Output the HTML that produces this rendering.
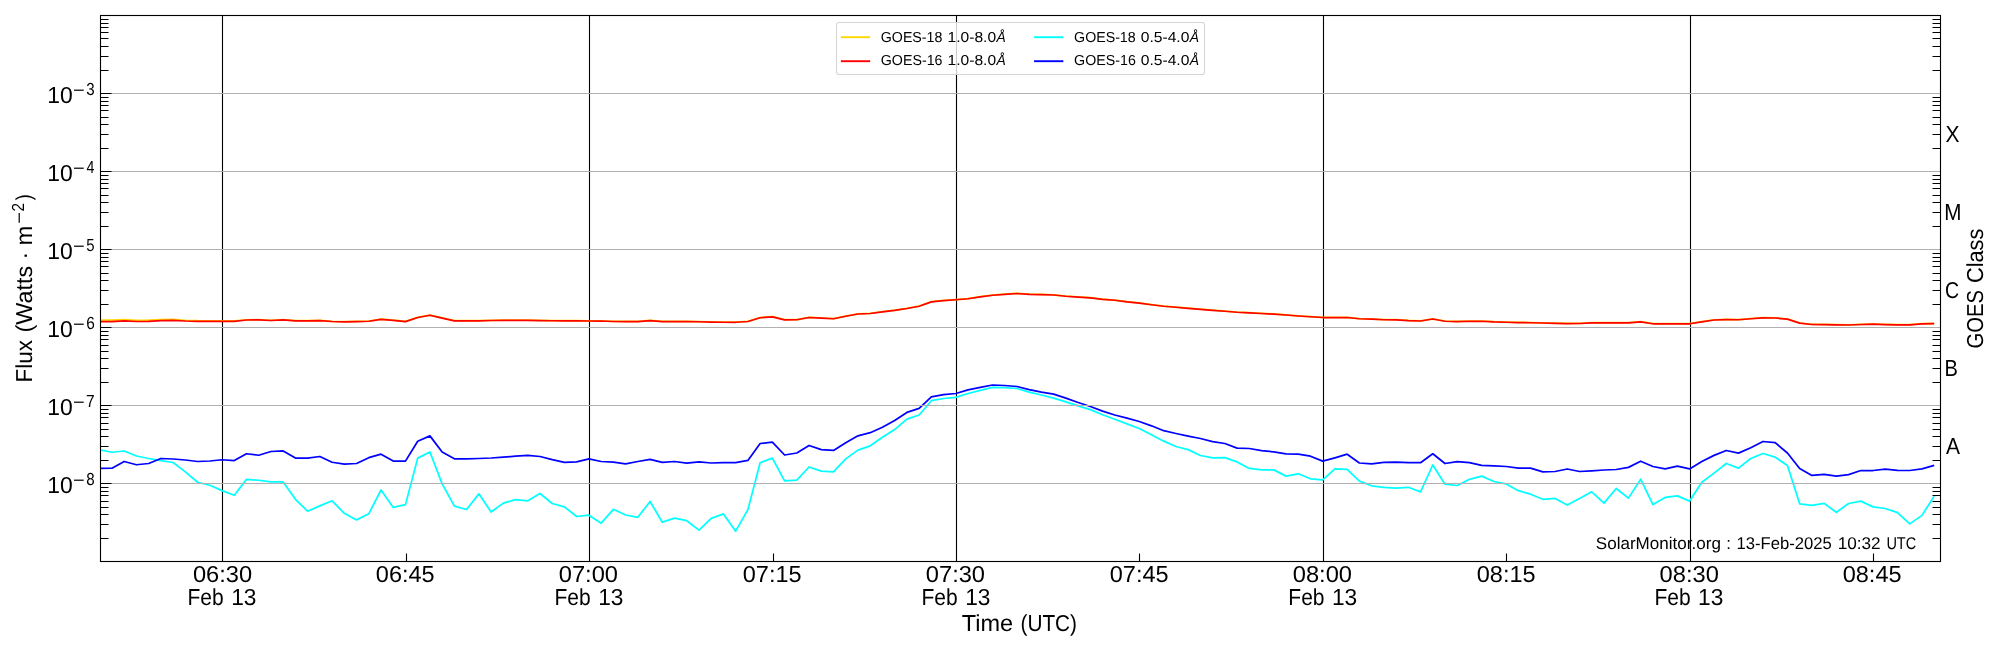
<!DOCTYPE html>
<html><head><meta charset="utf-8"><title>GOES X-ray flux</title><style>html,body{margin:0;padding:0;background:#fff;width:2000px;height:650px;overflow:hidden}</style></head><body>
<svg width="2000" height="650" viewBox="0 0 2000 650" text-rendering="geometricPrecision" style="display:block;will-change:transform;font-family:'Liberation Sans',sans-serif">
<rect x="0" y="0" width="2000" height="650" fill="#fff"/>
<line x1="222.5" y1="15.5" x2="222.5" y2="561.5" stroke="#000" stroke-width="1.1"/>
<line x1="589.5" y1="15.5" x2="589.5" y2="561.5" stroke="#000" stroke-width="1.1"/>
<line x1="956.5" y1="15.5" x2="956.5" y2="561.5" stroke="#000" stroke-width="1.1"/>
<line x1="1323.5" y1="15.5" x2="1323.5" y2="561.5" stroke="#000" stroke-width="1.1"/>
<line x1="1690.5" y1="15.5" x2="1690.5" y2="561.5" stroke="#000" stroke-width="1.1"/>
<g clip-path="url(#axclip)">
<polyline points="99.73,320.20 111.96,320.21 124.19,319.52 136.42,320.32 148.65,320.23 160.88,319.64 173.11,319.45 185.34,320.26 197.57,320.67 209.80,320.78 222.03,320.88 234.26,320.99 246.49,319.80 258.72,319.70 270.95,320.30 283.18,319.70 295.41,320.60 307.63,320.70 319.86,320.40 332.09,321.30 344.32,321.70 356.55,321.40 368.78,321.05 381.01,319.20 393.24,320.20 405.47,321.40 417.70,317.30 429.93,315.05 442.16,317.90 454.39,320.70 466.62,320.70 478.85,320.70 491.08,320.30 503.31,320.20 515.54,320.20 527.77,320.20 540.00,320.40 552.23,320.55 564.46,320.70 576.69,320.70 588.92,320.80 601.15,320.80 613.38,321.30 625.61,321.40 637.84,321.40 650.07,320.40 662.30,321.40 674.53,321.40 686.76,321.40 698.99,321.55 711.22,321.90 723.44,322.05 735.67,322.05 747.90,321.30 760.13,317.55 772.36,316.70 784.59,319.70 796.82,319.55 809.05,317.30 821.28,317.90 833.51,318.55 845.74,316.05 857.97,313.80 870.20,313.30 882.43,311.70 894.66,310.20 906.89,308.30 919.12,306.05 931.35,301.70 943.58,300.40 955.81,299.55 968.04,298.55 980.27,296.70 992.50,295.05 1004.73,294.20 1016.96,293.30 1029.19,294.20 1041.42,294.40 1053.65,294.80 1065.88,296.05 1078.11,296.90 1090.34,297.70 1102.57,299.20 1114.80,300.05 1127.02,301.70 1139.25,302.90 1151.48,304.55 1163.71,306.05 1175.94,307.05 1188.17,308.20 1200.40,309.20 1212.63,310.20 1224.86,311.05 1237.09,312.05 1249.32,312.70 1261.55,313.30 1273.78,313.90 1286.01,314.80 1298.24,315.80 1310.47,316.55 1322.70,317.30 1334.93,317.30 1347.16,317.30 1359.39,318.55 1371.62,318.90 1383.85,319.55 1396.08,319.70 1408.31,320.40 1420.54,320.80 1432.77,318.80 1445.00,321.05 1457.23,321.40 1469.46,321.05 1481.69,321.05 1493.92,321.70 1506.15,322.05 1518.38,322.40 1530.60,322.55 1542.83,322.80 1555.06,323.20 1567.29,323.40 1579.52,323.30 1591.75,322.70 1603.98,322.70 1616.21,322.70 1628.44,322.70 1640.67,321.70 1652.90,323.55 1665.13,323.55 1677.36,323.55 1689.59,323.55 1701.82,321.70 1714.05,319.80 1726.28,319.40 1738.51,319.55 1750.74,318.55 1762.97,317.60 1775.20,317.80 1787.43,319.00 1799.66,323.00 1811.89,324.30 1824.12,324.40 1836.35,324.60 1848.58,324.80 1860.81,324.30 1873.04,324.00 1885.27,324.40 1897.50,324.60 1909.73,324.60 1921.96,323.60 1934.19,323.40" fill="none" stroke="#ffd700" stroke-width="1.75" stroke-linejoin="round" stroke-linecap="butt"/>
<polyline points="99.73,321.70 111.96,321.60 124.19,320.80 136.42,321.50 148.65,321.30 160.88,320.60 173.11,320.30 185.34,321.00 197.57,321.30 209.80,321.30 222.03,321.30 234.26,321.30 246.49,320.00 258.72,319.90 270.95,320.50 283.18,319.90 295.41,320.80 307.63,320.90 319.86,320.60 332.09,321.50 344.32,321.90 356.55,321.60 368.78,321.25 381.01,319.40 393.24,320.40 405.47,321.60 417.70,317.50 429.93,315.25 442.16,318.10 454.39,320.90 466.62,320.90 478.85,320.90 491.08,320.50 503.31,320.40 515.54,320.40 527.77,320.40 540.00,320.60 552.23,320.75 564.46,320.90 576.69,320.90 588.92,321.00 601.15,321.00 613.38,321.50 625.61,321.60 637.84,321.60 650.07,320.60 662.30,321.60 674.53,321.60 686.76,321.60 698.99,321.75 711.22,322.10 723.44,322.25 735.67,322.25 747.90,321.50 760.13,317.75 772.36,316.90 784.59,319.90 796.82,319.75 809.05,317.50 821.28,318.10 833.51,318.75 845.74,316.25 857.97,314.00 870.20,313.50 882.43,311.90 894.66,310.40 906.89,308.50 919.12,306.25 931.35,301.90 943.58,300.60 955.81,299.75 968.04,298.75 980.27,296.90 992.50,295.25 1004.73,294.40 1016.96,293.50 1029.19,294.40 1041.42,294.60 1053.65,295.00 1065.88,296.25 1078.11,297.10 1090.34,297.90 1102.57,299.40 1114.80,300.25 1127.02,301.90 1139.25,303.10 1151.48,304.75 1163.71,306.25 1175.94,307.25 1188.17,308.40 1200.40,309.40 1212.63,310.40 1224.86,311.25 1237.09,312.25 1249.32,312.90 1261.55,313.50 1273.78,314.10 1286.01,315.00 1298.24,316.00 1310.47,316.75 1322.70,317.50 1334.93,317.50 1347.16,317.50 1359.39,318.75 1371.62,319.10 1383.85,319.75 1396.08,319.90 1408.31,320.60 1420.54,321.00 1432.77,319.00 1445.00,321.25 1457.23,321.60 1469.46,321.25 1481.69,321.25 1493.92,321.90 1506.15,322.25 1518.38,322.60 1530.60,322.75 1542.83,323.00 1555.06,323.40 1567.29,323.60 1579.52,323.50 1591.75,322.90 1603.98,322.90 1616.21,322.90 1628.44,322.90 1640.67,321.90 1652.90,323.75 1665.13,323.75 1677.36,323.75 1689.59,323.75 1701.82,321.90 1714.05,320.00 1726.28,319.60 1738.51,319.75 1750.74,318.75 1762.97,317.80 1775.20,318.00 1787.43,319.20 1799.66,323.20 1811.89,324.50 1824.12,324.60 1836.35,324.80 1848.58,325.00 1860.81,324.50 1873.04,324.20 1885.27,324.60 1897.50,324.80 1909.73,324.80 1921.96,323.80 1934.19,323.60" fill="none" stroke="#ff0000" stroke-width="1.75" stroke-linejoin="round" stroke-linecap="butt"/>
<polyline points="99.73,449.75 111.96,452.25 124.19,451.00 136.42,456.00 148.65,458.50 160.88,460.60 173.11,462.50 185.34,471.90 197.57,482.25 209.80,485.25 222.03,490.60 234.26,495.25 246.49,479.40 258.72,480.25 270.95,481.90 283.18,481.90 295.41,499.30 307.63,511.20 319.86,505.90 332.09,500.80 344.32,513.30 356.55,519.90 368.78,513.80 381.01,490.00 393.24,507.40 405.47,504.60 417.70,458.15 429.93,452.00 442.16,483.85 454.39,506.15 466.62,509.50 478.85,493.85 491.08,512.00 503.31,503.10 515.54,499.70 527.77,500.80 540.00,493.50 552.23,503.50 564.46,506.90 576.69,516.50 588.92,515.20 601.15,523.15 613.38,509.30 625.61,515.00 637.84,517.30 650.07,501.50 662.30,522.20 674.53,518.10 686.76,520.70 698.99,530.10 711.22,518.40 723.44,513.90 735.67,531.15 747.90,509.60 760.13,462.70 772.36,458.10 784.59,480.85 796.82,480.10 809.05,467.00 821.28,471.15 833.51,471.90 845.74,458.85 857.97,450.10 870.20,445.80 882.43,437.30 894.66,429.60 906.89,419.15 919.12,415.00 931.35,400.70 943.58,398.50 955.81,397.30 968.04,393.50 980.27,390.40 992.50,387.30 1004.73,387.60 1016.96,388.50 1029.19,392.20 1041.42,395.00 1053.65,398.10 1065.88,401.90 1078.11,405.80 1090.34,409.60 1102.57,414.70 1114.80,419.30 1127.02,423.90 1139.25,428.50 1151.48,434.70 1163.71,441.15 1175.94,446.50 1188.17,449.60 1200.40,455.50 1212.63,457.80 1224.86,457.60 1237.09,461.90 1249.32,468.40 1261.55,469.90 1273.78,469.90 1286.01,476.10 1298.24,473.80 1310.47,478.80 1322.70,479.90 1334.93,468.85 1347.16,469.30 1359.39,481.15 1371.62,485.80 1383.85,487.30 1396.08,488.10 1408.31,487.30 1420.54,491.90 1432.77,465.00 1445.00,484.20 1457.23,485.50 1469.46,479.30 1481.69,476.10 1493.92,481.50 1506.15,483.90 1518.38,490.70 1530.60,494.20 1542.83,499.30 1555.06,498.40 1567.29,505.00 1579.52,498.50 1591.75,491.85 1603.98,503.10 1616.21,488.50 1628.44,498.15 1640.67,479.20 1652.90,504.60 1665.13,497.40 1677.36,495.85 1689.59,501.10 1701.82,482.30 1714.05,473.10 1726.28,463.50 1738.51,468.15 1750.74,458.50 1762.97,453.50 1775.20,457.20 1787.43,465.40 1799.66,503.85 1811.89,505.40 1824.12,503.40 1836.35,512.30 1848.58,503.50 1860.81,501.10 1873.04,506.90 1885.27,508.50 1897.50,512.60 1909.73,523.85 1921.96,515.40 1934.19,496.15" fill="none" stroke="#00ffff" stroke-width="1.75" stroke-linejoin="round" stroke-linecap="butt"/>
<polyline points="99.73,468.50 111.96,468.25 124.19,461.50 136.42,464.75 148.65,463.50 160.88,458.50 173.11,459.00 185.34,460.00 197.57,461.50 209.80,461.00 222.03,459.75 234.26,460.60 246.49,453.75 258.72,455.25 270.95,451.50 283.18,450.90 295.41,458.10 307.63,458.10 319.86,456.50 332.09,462.25 344.32,464.10 356.55,463.50 368.78,457.70 381.01,454.15 393.24,461.10 405.47,461.10 417.70,441.20 429.93,435.85 442.16,452.00 454.39,458.80 466.62,458.90 478.85,458.50 491.08,458.00 503.31,457.20 515.54,456.15 527.77,455.40 540.00,456.50 552.23,459.70 564.46,462.30 576.69,461.85 588.92,458.80 601.15,461.50 613.38,462.20 625.61,463.80 637.84,461.50 650.07,459.30 662.30,462.40 674.53,461.50 686.76,463.15 698.99,461.90 711.22,463.00 723.44,462.70 735.67,462.70 747.90,460.40 760.13,443.50 772.36,442.20 784.59,455.00 796.82,453.00 809.05,445.50 821.28,449.60 833.51,450.40 845.74,442.70 857.97,435.80 870.20,432.70 882.43,427.30 894.66,420.40 906.89,412.40 919.12,408.40 931.35,396.85 943.58,394.70 955.81,393.50 968.04,389.90 980.27,387.30 992.50,385.00 1004.73,385.50 1016.96,386.50 1029.19,389.60 1041.42,392.20 1053.65,394.20 1065.88,398.10 1078.11,402.50 1090.34,406.50 1102.57,411.15 1114.80,415.00 1127.02,418.10 1139.25,421.50 1151.48,425.80 1163.71,430.70 1175.94,433.50 1188.17,436.10 1200.40,438.50 1212.63,441.60 1224.86,443.50 1237.09,448.10 1249.32,448.50 1261.55,450.70 1273.78,451.90 1286.01,453.80 1298.24,454.20 1310.47,456.20 1322.70,461.15 1334.93,457.80 1347.16,454.20 1359.39,463.00 1371.62,463.90 1383.85,462.40 1396.08,462.20 1408.31,462.70 1420.54,462.70 1432.77,453.80 1445.00,463.50 1457.23,461.60 1469.46,462.70 1481.69,465.30 1493.92,465.80 1506.15,466.50 1518.38,468.10 1530.60,468.10 1542.83,471.90 1555.06,471.50 1567.29,469.00 1579.52,471.50 1591.75,470.80 1603.98,470.00 1616.21,469.50 1628.44,467.40 1640.67,461.20 1652.90,466.50 1665.13,468.90 1677.36,466.15 1689.59,468.90 1701.82,461.50 1714.05,455.40 1726.28,450.50 1738.51,453.10 1750.74,447.70 1762.97,441.50 1775.20,442.70 1787.43,453.00 1799.66,468.50 1811.89,475.40 1824.12,474.30 1836.35,476.15 1848.58,474.60 1860.81,470.50 1873.04,470.50 1885.27,469.20 1897.50,470.30 1909.73,470.50 1921.96,468.90 1934.19,465.40" fill="none" stroke="#0000ff" stroke-width="1.75" stroke-linejoin="round" stroke-linecap="butt"/>
</g>
<defs><clipPath id="axclip"><rect x="100.5" y="15.5" width="1840.0" height="546.0"/></clipPath></defs>
<line x1="100.5" y1="93.5" x2="1940.5" y2="93.5" stroke="#b0b0b0" stroke-width="1.1"/>
<line x1="100.5" y1="171.5" x2="1940.5" y2="171.5" stroke="#b0b0b0" stroke-width="1.1"/>
<line x1="100.5" y1="249.5" x2="1940.5" y2="249.5" stroke="#b0b0b0" stroke-width="1.1"/>
<line x1="100.5" y1="327.5" x2="1940.5" y2="327.5" stroke="#b0b0b0" stroke-width="1.1"/>
<line x1="100.5" y1="405.5" x2="1940.5" y2="405.5" stroke="#b0b0b0" stroke-width="1.1"/>
<line x1="100.5" y1="483.5" x2="1940.5" y2="483.5" stroke="#b0b0b0" stroke-width="1.1"/>
<path d="M100.5,93.5h11 M100.5,171.5h11 M100.5,249.5h11 M100.5,327.5h11 M100.5,405.5h11 M100.5,483.5h11 M100.5,70.5h8 M1940.5,70.5h-8 M100.5,56.5h8 M1940.5,56.5h-8 M100.5,46.5h8 M1940.5,46.5h-8 M100.5,38.5h8 M1940.5,38.5h-8 M100.5,32.5h8 M1940.5,32.5h-8 M100.5,27.5h8 M1940.5,27.5h-8 M100.5,23.5h8 M1940.5,23.5h-8 M100.5,19.5h8 M1940.5,19.5h-8 M100.5,148.5h8 M1940.5,148.5h-8 M100.5,134.5h8 M1940.5,134.5h-8 M100.5,124.5h8 M1940.5,124.5h-8 M100.5,117.5h8 M1940.5,117.5h-8 M100.5,110.5h8 M1940.5,110.5h-8 M100.5,105.5h8 M1940.5,105.5h-8 M100.5,101.5h8 M1940.5,101.5h-8 M100.5,97.5h8 M1940.5,97.5h-8 M100.5,226.5h8 M1940.5,226.5h-8 M100.5,212.5h8 M1940.5,212.5h-8 M100.5,202.5h8 M1940.5,202.5h-8 M100.5,195.5h8 M1940.5,195.5h-8 M100.5,188.5h8 M1940.5,188.5h-8 M100.5,183.5h8 M1940.5,183.5h-8 M100.5,179.5h8 M1940.5,179.5h-8 M100.5,175.5h8 M1940.5,175.5h-8 M100.5,304.5h8 M1940.5,304.5h-8 M100.5,290.5h8 M1940.5,290.5h-8 M100.5,280.5h8 M1940.5,280.5h-8 M100.5,273.5h8 M1940.5,273.5h-8 M100.5,266.5h8 M1940.5,266.5h-8 M100.5,261.5h8 M1940.5,261.5h-8 M100.5,257.5h8 M1940.5,257.5h-8 M100.5,253.5h8 M1940.5,253.5h-8 M100.5,382.5h8 M1940.5,382.5h-8 M100.5,368.5h8 M1940.5,368.5h-8 M100.5,358.5h8 M1940.5,358.5h-8 M100.5,351.5h8 M1940.5,351.5h-8 M100.5,345.5h8 M1940.5,345.5h-8 M100.5,339.5h8 M1940.5,339.5h-8 M100.5,335.5h8 M1940.5,335.5h-8 M100.5,331.5h8 M1940.5,331.5h-8 M100.5,460.5h8 M1940.5,460.5h-8 M100.5,446.5h8 M1940.5,446.5h-8 M100.5,436.5h8 M1940.5,436.5h-8 M100.5,429.5h8 M1940.5,429.5h-8 M100.5,423.5h8 M1940.5,423.5h-8 M100.5,417.5h8 M1940.5,417.5h-8 M100.5,413.5h8 M1940.5,413.5h-8 M100.5,409.5h8 M1940.5,409.5h-8 M100.5,538.5h8 M1940.5,538.5h-8 M100.5,524.5h8 M1940.5,524.5h-8 M100.5,514.5h8 M1940.5,514.5h-8 M100.5,507.5h8 M1940.5,507.5h-8 M100.5,501.5h8 M1940.5,501.5h-8 M100.5,495.5h8 M1940.5,495.5h-8 M100.5,491.5h8 M1940.5,491.5h-8 M100.5,487.5h8 M1940.5,487.5h-8 M406.5,561.5v-8 M773.5,561.5v-8 M1139.5,561.5v-8 M1506.5,561.5v-8 M1873.5,561.5v-8" stroke="#000" stroke-width="1.1" fill="none"/>
<rect x="100.5" y="15.5" width="1840.0" height="546.0" fill="none" stroke="#000" stroke-width="1.11"/>
<text font-size="23.100" fill="#000" transform="translate(47.28,103.00) scale(0.9924,1)">10</text>
<text font-size="17.400" fill="#000" transform="translate(73.10,96.00) scale(1.1494,1)">−</text>
<text font-size="17.400" fill="#000" transform="translate(86.30,95.00) scale(0.8682,1)">3</text>
<text font-size="23.100" fill="#000" transform="translate(47.28,181.00) scale(0.9924,1)">10</text>
<text font-size="17.400" fill="#000" transform="translate(73.10,174.00) scale(1.1494,1)">−</text>
<text font-size="17.400" fill="#000" transform="translate(86.55,173.00) scale(0.8161,1)">4</text>
<text font-size="23.100" fill="#000" transform="translate(47.28,259.00) scale(0.9924,1)">10</text>
<text font-size="17.400" fill="#000" transform="translate(73.10,252.00) scale(1.1494,1)">−</text>
<text font-size="17.400" fill="#000" transform="translate(86.30,251.00) scale(0.8590,1)">5</text>
<text font-size="23.100" fill="#000" transform="translate(47.28,337.00) scale(0.9924,1)">10</text>
<text font-size="17.400" fill="#000" transform="translate(73.10,330.00) scale(1.1494,1)">−</text>
<text font-size="17.400" fill="#000" transform="translate(86.13,329.00) scale(0.8871,1)">6</text>
<text font-size="23.100" fill="#000" transform="translate(47.28,415.00) scale(0.9924,1)">10</text>
<text font-size="17.400" fill="#000" transform="translate(73.10,408.00) scale(1.1494,1)">−</text>
<text font-size="17.400" fill="#000" transform="translate(86.12,407.00) scale(0.8968,1)">7</text>
<text font-size="23.100" fill="#000" transform="translate(47.28,493.00) scale(0.9924,1)">10</text>
<text font-size="17.400" fill="#000" transform="translate(73.10,486.00) scale(1.1494,1)">−</text>
<text font-size="17.400" fill="#000" transform="translate(86.22,485.00) scale(0.8682,1)">8</text>
<text font-size="23.100" fill="#000" transform="translate(192.91,582.00) scale(1.0247,1)">06:30</text>
<text font-size="23.100" fill="#000" transform="translate(187.50,605.00) scale(0.9102,1)">Feb</text>
<text font-size="23.100" fill="#000" transform="translate(231.19,605.00) scale(0.9837,1)">13</text>
<text font-size="23.100" fill="#000" transform="translate(375.83,582.00) scale(1.0172,1)">06:45</text>
<text font-size="23.100" fill="#000" transform="translate(558.76,582.00) scale(1.0247,1)">07:00</text>
<text font-size="23.100" fill="#000" transform="translate(554.45,605.00) scale(0.9102,1)">Feb</text>
<text font-size="23.100" fill="#000" transform="translate(598.14,605.00) scale(0.9837,1)">13</text>
<text font-size="23.100" fill="#000" transform="translate(742.78,582.00) scale(1.0172,1)">07:15</text>
<text font-size="23.100" fill="#000" transform="translate(925.81,582.00) scale(1.0247,1)">07:30</text>
<text font-size="23.100" fill="#000" transform="translate(921.45,605.00) scale(0.9102,1)">Feb</text>
<text font-size="23.100" fill="#000" transform="translate(965.14,605.00) scale(0.9837,1)">13</text>
<text font-size="23.100" fill="#000" transform="translate(1109.78,582.00) scale(1.0172,1)">07:45</text>
<text font-size="23.100" fill="#000" transform="translate(1292.76,582.00) scale(1.0247,1)">08:00</text>
<text font-size="23.100" fill="#000" transform="translate(1288.30,605.00) scale(0.9102,1)">Feb</text>
<text font-size="23.100" fill="#000" transform="translate(1331.99,605.00) scale(0.9837,1)">13</text>
<text font-size="23.100" fill="#000" transform="translate(1476.78,582.00) scale(1.0172,1)">08:15</text>
<text font-size="23.100" fill="#000" transform="translate(1659.61,582.00) scale(1.0247,1)">08:30</text>
<text font-size="23.100" fill="#000" transform="translate(1654.40,605.00) scale(0.9102,1)">Feb</text>
<text font-size="23.100" fill="#000" transform="translate(1698.09,605.00) scale(0.9837,1)">13</text>
<text font-size="23.100" fill="#000" transform="translate(1842.73,582.00) scale(1.0172,1)">08:45</text>
<text font-size="23.100" fill="#000" transform="translate(961.77,631.00) scale(1.0187,1)">Time</text>
<text font-size="23.100" fill="#000" transform="translate(1020.46,631.00) scale(0.9000,1)">(UTC)</text>
<text font-size="23.100" fill="#000" transform="translate(32.00,382.60) rotate(-90) scale(0.9744,1)">Flux</text>
<text font-size="23.100" fill="#000" transform="translate(32.00,332.60) rotate(-90) scale(1.0130,1)">(Watts</text>
<text font-size="23.100" fill="#000" transform="translate(32.00,259.57) rotate(-90) scale(0.9967,1)">·</text>
<text font-size="23.100" fill="#000" transform="translate(32.00,245.43) rotate(-90) scale(1.0306,1)">m</text>
<text font-size="17.400" fill="#000" transform="translate(25.40,223.70) rotate(-90) scale(1.1494,1)">−</text>
<text font-size="17.400" fill="#000" transform="translate(23.80,211.57) rotate(-90) scale(0.8842,1)">2</text>
<text font-size="21.500" fill="#000" transform="translate(30.90,200.27) rotate(-90) scale(0.8384,1)">)</text>
<text font-size="23.100" fill="#000" transform="translate(1983.00,348.51) rotate(-90) scale(0.8775,1)">GOES</text>
<text font-size="23.100" fill="#000" transform="translate(1983.00,283.05) rotate(-90) scale(0.9428,1)">Class</text>
<text font-size="23.100" fill="#000" transform="translate(1945.90,454.00) scale(0.9086,1)">A</text>
<text font-size="23.100" fill="#000" transform="translate(1944.40,376.00) scale(0.8680,1)">B</text>
<text font-size="23.100" fill="#000" transform="translate(1945.02,298.00) scale(0.8445,1)">C</text>
<text font-size="23.100" fill="#000" transform="translate(1944.35,220.00) scale(0.8950,1)">M</text>
<text font-size="23.100" fill="#000" transform="translate(1945.48,142.00) scale(0.9090,1)">X</text>
<text font-size="17.000" fill="#000" transform="translate(1595.83,549.00) scale(1.0027,1)">SolarMonitor.org</text>
<text font-size="17.000" fill="#000" transform="translate(1726.24,549.00) scale(0.9934,1)">:</text>
<text font-size="17.000" fill="#000" transform="translate(1736.44,549.00) scale(0.9797,1)">13-Feb-2025</text>
<text font-size="17.000" fill="#000" transform="translate(1837.67,549.00) scale(1.0105,1)">10:32</text>
<text font-size="17.000" fill="#000" transform="translate(1886.38,549.00) scale(0.8548,1)">UTC</text>
<rect x="836.5" y="22.5" width="368" height="52" rx="2.8" ry="2.8" fill="#fff" fill-opacity="0.8" stroke="#d6d6d6" stroke-width="1.1"/>
<line x1="841.8" y1="37.2" x2="869.1999999999999" y2="37.2" stroke="#ffd700" stroke-width="1.9" stroke-linecap="square"/>
<line x1="841.8" y1="61.2" x2="869.1999999999999" y2="61.2" stroke="#ff0000" stroke-width="1.9" stroke-linecap="square"/>
<line x1="1035.0" y1="37.2" x2="1062.4" y2="37.2" stroke="#00ffff" stroke-width="1.9" stroke-linecap="square"/>
<line x1="1035.0" y1="61.2" x2="1062.4" y2="61.2" stroke="#0000ff" stroke-width="1.9" stroke-linecap="square"/>
<text font-size="14.500" fill="#000" transform="translate(880.79,42.00) scale(0.9794,1)">GOES-18</text>
<text font-size="14.500" fill="#000" transform="translate(947.49,42.00) scale(1.0763,1)">1.0-8.0</text>
<text font-size="14.500" font-style="italic" fill="#000" transform="translate(996.39,42.00) scale(0.9579,1)">Å</text>
<text font-size="14.500" fill="#000" transform="translate(880.79,65.00) scale(0.9817,1)">GOES-16</text>
<text font-size="14.500" fill="#000" transform="translate(947.49,65.00) scale(1.0763,1)">1.0-8.0</text>
<text font-size="14.500" font-style="italic" fill="#000" transform="translate(996.39,65.00) scale(0.9579,1)">Å</text>
<text font-size="14.500" fill="#000" transform="translate(1074.09,42.00) scale(0.9794,1)">GOES-18</text>
<text font-size="14.500" fill="#000" transform="translate(1140.71,42.00) scale(1.0781,1)">0.5-4.0</text>
<text font-size="14.500" font-style="italic" fill="#000" transform="translate(1189.69,42.00) scale(0.9579,1)">Å</text>
<text font-size="14.500" fill="#000" transform="translate(1074.09,65.00) scale(0.9817,1)">GOES-16</text>
<text font-size="14.500" fill="#000" transform="translate(1140.71,65.00) scale(1.0781,1)">0.5-4.0</text>
<text font-size="14.500" font-style="italic" fill="#000" transform="translate(1189.69,65.00) scale(0.9579,1)">Å</text>
</svg>
</body></html>
